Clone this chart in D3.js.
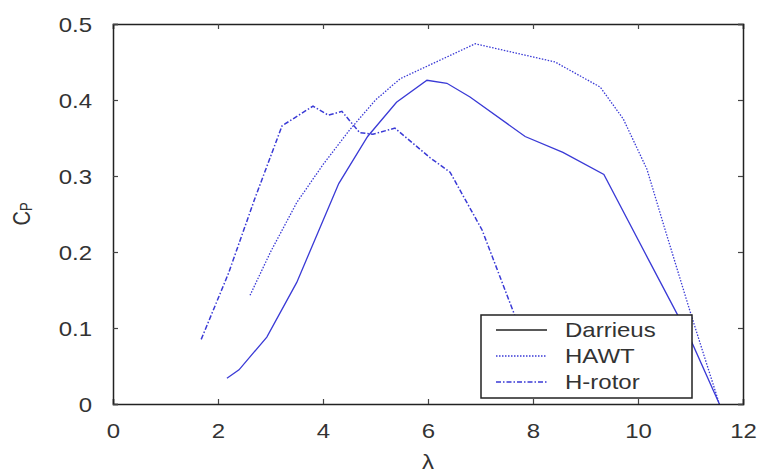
<!DOCTYPE html>
<html><head><meta charset="utf-8">
<script src="https://cdn.jsdelivr.net/npm/d3@7"></script>
<style>body{margin:0;background:#fff}svg{display:block}text{font-family:"Liberation Sans",Arial,sans-serif;fill:#333}</style>
</head><body><svg id="c" width="760" height="475"></svg>
<script>
const darrieus = [[2.17,0.034],[2.4,0.045],[2.93,0.088],[3.5,0.16],[3.9,0.225],[4.3,0.29],[4.85,0.352],[5.4,0.397],[5.98,0.426],[6.36,0.422],[6.8,0.404],[7.85,0.352],[8.57,0.331],[9.35,0.302],[10.2,0.19],[11.0,0.085],[11.55,0]];
const hawt = [[2.61,0.143],[3.0,0.2],[3.5,0.265],[4.0,0.315],[4.5,0.36],[5.0,0.4],[5.47,0.428],[6.9,0.474],[8.42,0.45],[9.28,0.417],[9.72,0.375],[10.17,0.309],[10.5,0.233],[11.0,0.12],[11.55,0]];
const hrotor = [[1.68,0.085],[2.2,0.172],[2.7,0.27],[3.22,0.366],[3.81,0.392],[4.1,0.38],[4.36,0.385],[4.7,0.357],[4.95,0.355],[5.37,0.363],[6.04,0.324],[6.42,0.305],[7.03,0.229],[7.65,0.117],[8.2,0.02]];
const xTicks = [0,2,4,6,8,10,12];
const yTicks = [0,0.1,0.2,0.3,0.4,0.5];
const seriesNames = ["Darrieus","HAWT","H-rotor"];

const svg = d3.select("#c");
const L=113,R=743,T=24,B=404;
const SX=1.2;
const x = d3.scaleLinear().domain([0,12]).range([L,R]);
const y = d3.scaleLinear().domain([0,0.5]).range([B,T]);
const blue = "#3a3ad6";
const styles = [{dash:null,w:1.3},{dash:"1.5,1.5",w:1.3},{dash:"5,2,1.5,2",w:1.5}];

const line = d3.line().x(d=>x(d[0])).y(d=>y(d[1]));
[darrieus,hawt,hrotor].forEach((s,i)=>{
  svg.append("path").attr("d",line(s)).attr("fill","none").attr("stroke",blue)
    .attr("stroke-width",styles[i].w).attr("stroke-dasharray",styles[i].dash);
});

const fmt = d=> d===0?"0":d3.format(".1f")(d);
const gB = svg.append("g").attr("transform",`translate(0,${B})`).call(d3.axisBottom(x).tickValues(xTicks).tickSize(-5).tickPadding(20).tickFormat(d3.format("d")));
const gT = svg.append("g").attr("transform",`translate(0,${T})`).call(d3.axisTop(x).tickValues(xTicks).tickSize(-5).tickFormat(""));
const gL = svg.append("g").attr("transform",`translate(${L},0)`).call(d3.axisLeft(y).tickValues(yTicks).tickSize(-5).tickFormat(fmt));
const gR = svg.append("g").attr("transform",`translate(${R},0)`).call(d3.axisRight(y).tickValues(yTicks).tickSize(-5).tickFormat(""));
[gB,gT,gL,gR].forEach(g=>{
  g.select(".domain").attr("stroke","#222").attr("stroke-width",1.5);
  g.selectAll(".tick line").attr("stroke","#444").attr("stroke-width",1.2);
  g.selectAll("text").attr("font-size",20).attr("fill","#333").attr("font-family","Liberation Sans, Arial, sans-serif");
});
gB.selectAll(".tick text").attr("transform",`scale(${SX},1)`);
gL.selectAll(".tick text").attr("dy","0.35em").attr("x",-21/SX).attr("transform",`scale(${SX},1)`);

// legend
const lg = svg.append("g");
lg.append("rect").attr("x",481).attr("y",315).attr("width",211).attr("height",83).attr("fill","#fff").attr("stroke","#222").attr("stroke-width",1.5);
seriesNames.forEach((n,i)=>{
  const yy = 330+i*26;
  lg.append("line").attr("x1",496).attr("x2",547).attr("y1",yy).attr("y2",yy)
    .attr("stroke",i===0?"#222":blue).attr("stroke-width",styles[i].w).attr("stroke-dasharray",styles[i].dash);
  lg.append("text").attr("transform",`translate(565,${yy}) scale(${SX},1)`).attr("dy","0.35em").attr("font-size",20).text(n);
});

// axis labels
svg.append("text").attr("transform",`translate(${x(6)},462) scale(${SX},1)`).attr("dy","0.35em").attr("text-anchor","middle").attr("font-size",20).text("λ");
const yl = svg.append("text").attr("transform","translate(30,214) rotate(-90) scale(1,1.2)").attr("text-anchor","middle").attr("font-size",20);
yl.append("tspan").text("C");
yl.append("tspan").attr("font-size",13).attr("dy",2).text("P");
</script></body></html>
